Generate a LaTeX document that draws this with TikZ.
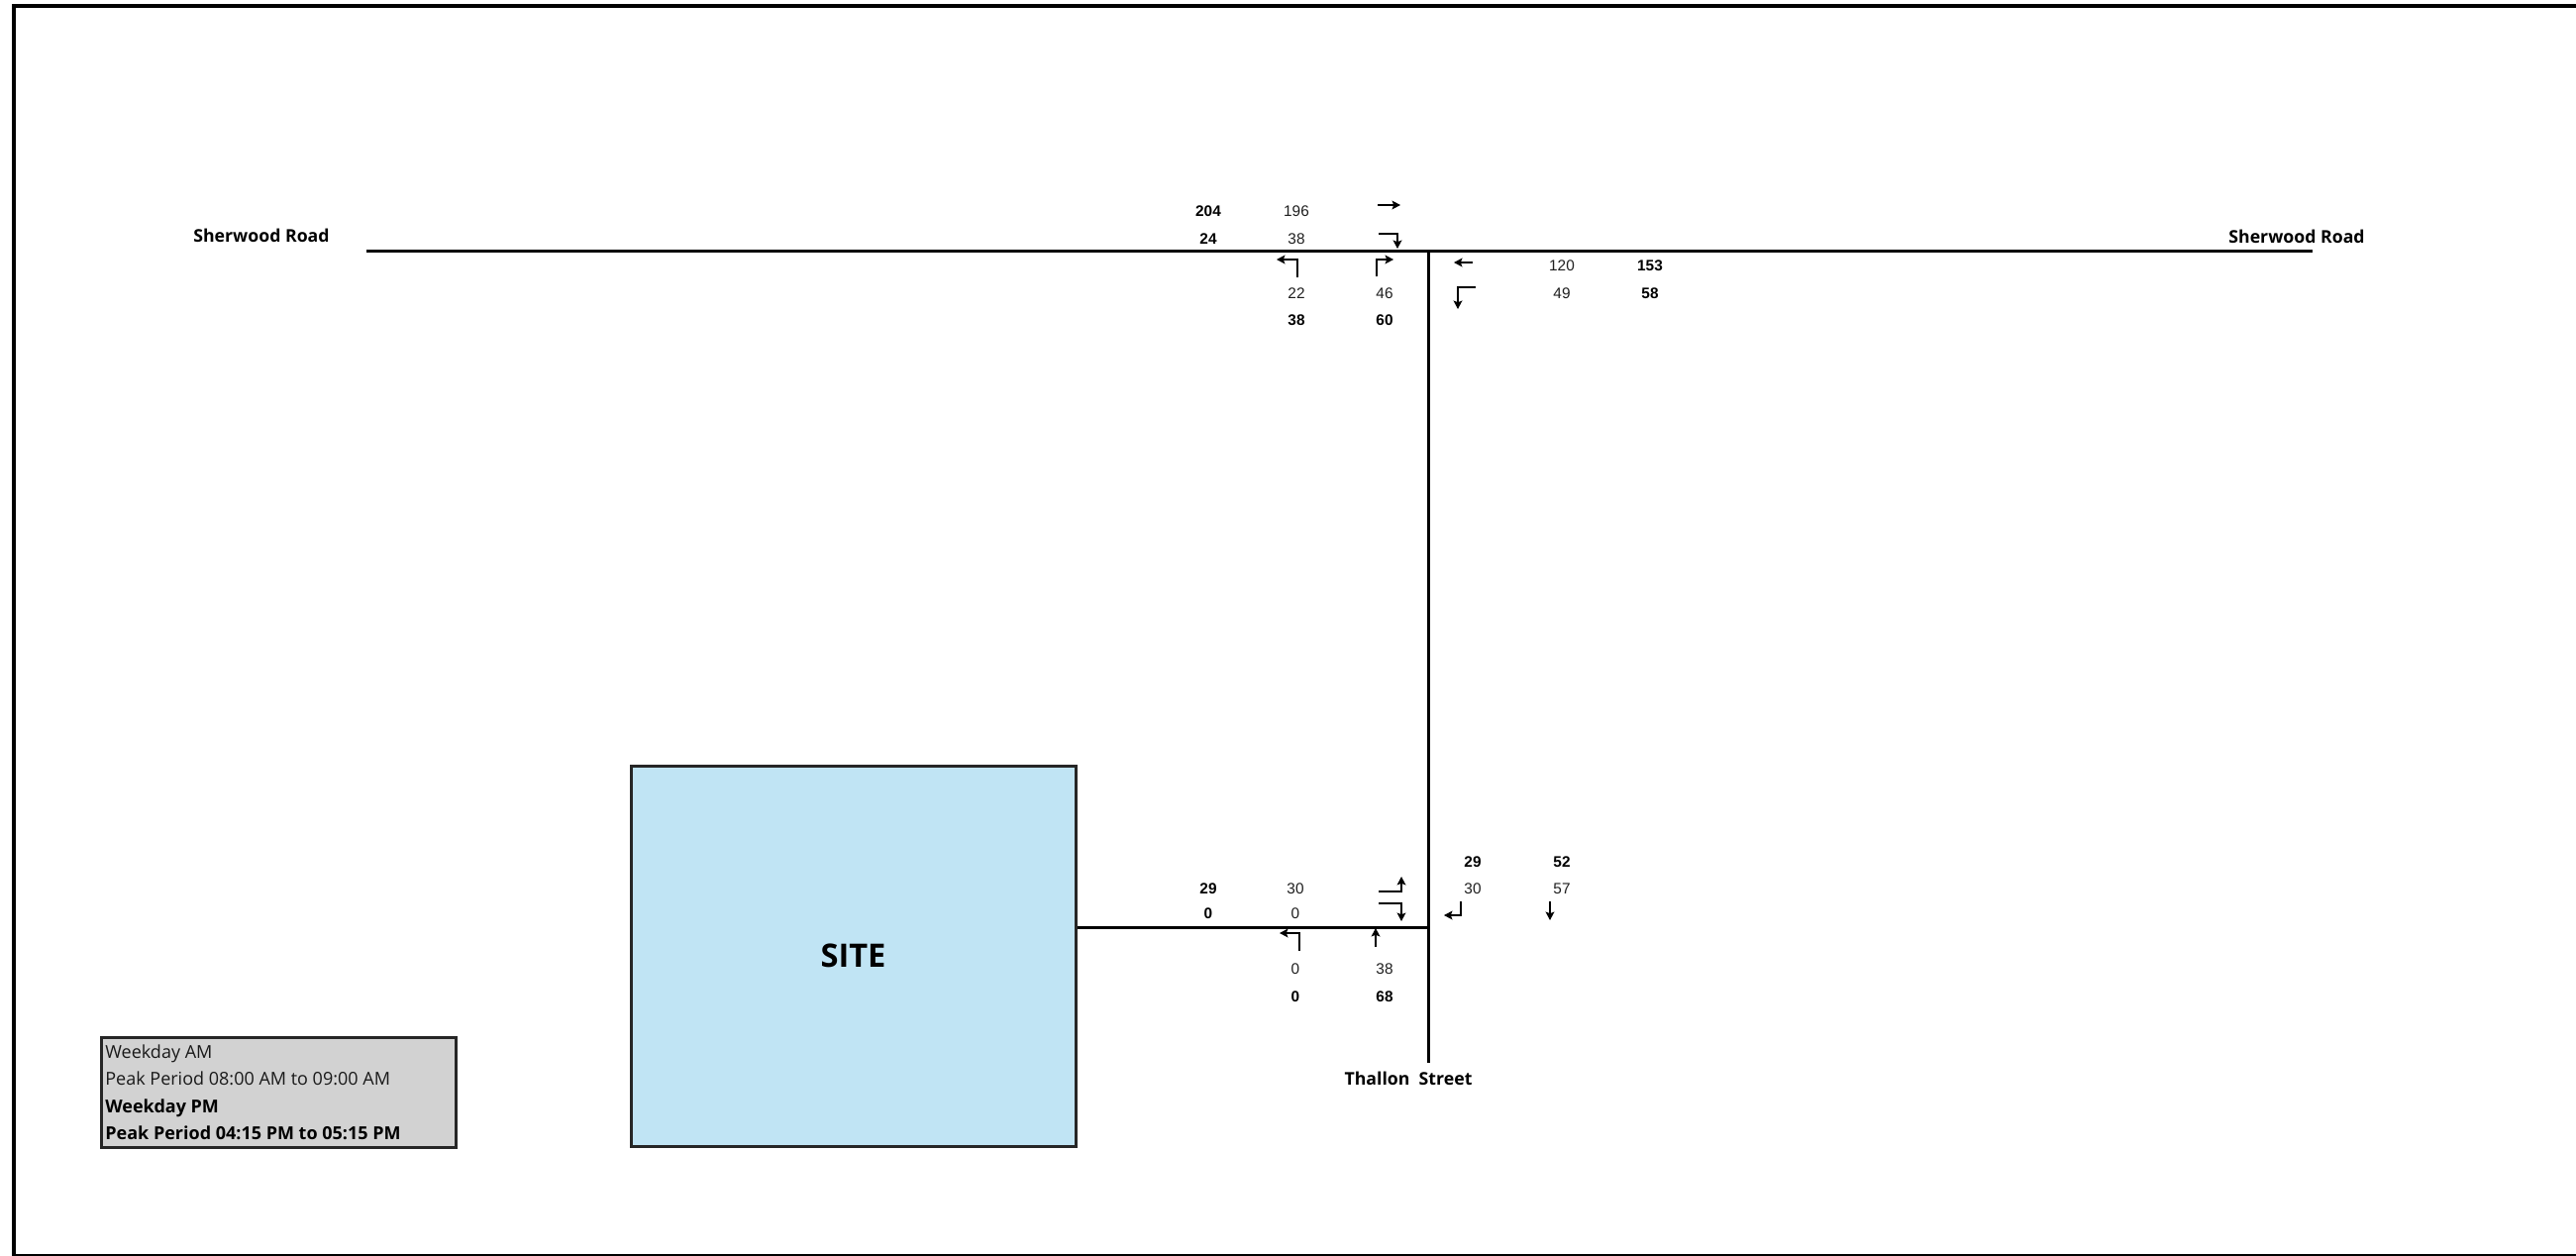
\documentclass[tikz,border=0pt]{standalone}
\usepackage{fontspec}
\usepackage{xcolor}
\usepackage{tikz}
\usetikzlibrary{positioning,arrows.meta}
\newfontfamily\numfont{Liberation Sans}
\newfontfamily\labfont{Open Sans}
\definecolor{sitefill}{HTML}{C0E4F4}
\definecolor{legfill}{HTML}{D2D2D2}

\begin{document}
\begin{tikzpicture}[x=0.5pt,y=-0.5pt,>={Stealth[length=4.2pt,width=4.4pt,inset=0.8pt]},
am/.style={inner sep=0pt,font=\numfont\fontsize{7.7}{9}\selectfont,text=black!88},
pm/.style={inner sep=0pt,font=\numfont\bfseries\fontsize{7.7}{9}\selectfont,text=black},
road/.style={line width=1.5pt},turn/.style={->,line width=0.7pt},
rname/.style={inner sep=0pt,font=\labfont\bfseries\fontsize{8.85}{11}\selectfont},
lg/.style={anchor=base west,inner sep=0pt,font=\labfont\fontsize{9}{11}\selectfont,text=black!90}]
\useasboundingbox (0,0) rectangle (2601,1268);
\fill[white] (0,0) rectangle (2601,1268);
\draw[line width=2pt] (14,6) rectangle (2602.5,1268);
% roads
\coordinate (wEnd) at (370,253); \coordinate (eEnd) at (2335,253);
\coordinate (jN) at (1442,253); \coordinate (jS) at (1442,936); \coordinate (sEnd) at (1442,1073);
\node[draw=black!85,line width=1.5pt,fill=sitefill,minimum width=224.5pt,minimum height=192pt,font=\labfont\bfseries\fontsize{16.3}{18}\selectfont] (site) at (861.5,965) {SITE};
\draw[road] (wEnd)--(eEnd); \draw[road] (jN)--(sEnd); \draw[road] (site.east |- jS)--(jS);
\node[rname] (sherW) at (264,238) {Sherwood Road};
\node[rname] (sherE) at (2319,239) {Sherwood Road};
\node[rname] (thallon) at (1422,1089) {Thallon~~Street};
% Sherwood Road / Thallon Street
\node[pm] (wt-pm) at (1220,213) {204}; \node[am] (wt-am) at (1309,213) {196};
\node[pm] (wr-pm) at (1220,241) {24}; \node[am] (wr-am) at (1309,241) {38};
\node[am] (nl-am) at (1309,296) {22}; \node[am] (nr-am) at (1398,296) {46};
\node[pm] (nl-pm) at (1309,323) {38}; \node[pm] (nr-pm) at (1398,323) {60};
\node[am] (et-am) at (1577,268) {120}; \node[pm] (et-pm) at (1666,268) {153};
\node[am] (el-am) at (1577,296) {49}; \node[pm] (el-pm) at (1666,296) {58};
\draw[turn] (1391,207)--(1414,207); \draw[turn] (1392,236)--(1411,236)--(1411,251);
\draw[turn] (1310,280)--(1310,262)--(1289,262); \draw[turn] (1390,279)--(1390,262)--(1407,262);
\draw[turn] (1487,265)--(1468,265); \draw[turn] (1490,290)--(1472,290)--(1472,312);
% Site access / Thallon Street
\node[pm] (sr-pm) at (1487,870) {29}; \node[pm] (st-pm) at (1577,870) {52};
\node[am] (sr-am) at (1487,897) {30}; \node[am] (st-am) at (1577,897) {57};
\node[pm] (xl-pm) at (1220,897) {29}; \node[am] (xl-am) at (1308,897) {30};
\node[pm] (xr-pm) at (1220,922) {0}; \node[am] (xr-am) at (1308,922) {0};
\node[am] (ql-am) at (1308,978) {0}; \node[am] (qt-am) at (1398,978) {38};
\node[pm] (ql-pm) at (1308,1006) {0}; \node[pm] (qt-pm) at (1398,1006) {68};
\draw[turn] (1392,900)--(1415,900)--(1415,885); \draw[turn] (1392,912)--(1415,912)--(1415,930);
\draw[turn] (1312,960)--(1312,942)--(1292,942); \draw[turn] (1389,956)--(1389,937);
\draw[turn] (1475,910)--(1475,924)--(1458,924); \draw[turn] (1565,910)--(1565,929);
% legend
\node[draw=black!85,line width=1.5pt,fill=legfill,minimum width=179pt,minimum height=55.5pt] (legend) at (281,1102.5) {};
\node[lg] (lg1) at (106,1068) {Weekday AM};
\node[lg] (lg2) at (106,1095) {Peak Period 08:00 AM to 09:00 AM};
\node[lg,font=\labfont\bfseries\fontsize{9}{11}\selectfont,text=black] (lg3) at (106,1123) {Weekday PM};
\node[lg,font=\labfont\bfseries\fontsize{9}{11}\selectfont,text=black] (lg4) at (106,1150) {Peak Period 04:15 PM to 05:15 PM};
\end{tikzpicture}
\end{document}
